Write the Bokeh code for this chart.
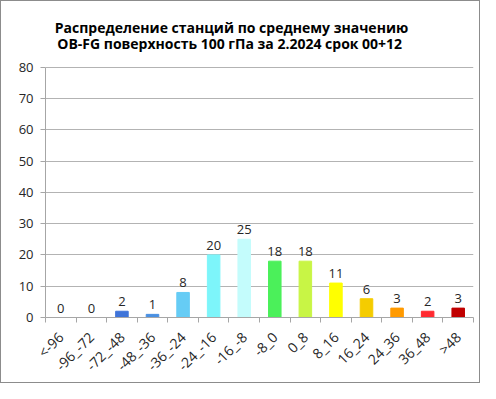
import math
from bokeh.plotting import figure
from bokeh.models import ColumnDataSource, FixedTicker, Range1d, LabelSet
from bokeh.core.properties import value
from bokeh.embed import file_html
from bokeh.resources import INLINE

categories = ["<-96", "-96_-72", "-72_-48", "-48_-36", "-36_-24", "-24_-16", "-16_-8",
              "-8_0", "0_8", "8_16", "16_24", "24_36", "36_48", ">48"]
counts = [0, 0, 2, 1, 8, 20, 25, 18, 18, 11, 6, 3, 2, 3]
colors = ["#FFFFFF", "#FFFFFF", "#3F74D9", "#4A90E2", "#66CCF5", "#7DF5FA", "#C4FCFC",
          "#4BF05A", "#C8F545", "#FFFF00", "#F5CC00", "#FF9A00", "#FF2A30", "#C00000"]
y_ticks = [0, 10, 20, 30, 40, 50, 60, 70, 80]
title_lines = ["Распределение станций по среднему значению",
               "OB-FG поверхность  100 гПа за 2.2024 срок 00+12"]

# layout (pixels on the canvas)
W, H = 480, 383
LEFT, RIGHT, TOP, BOTTOM = 44, 8, 10, 65
AXIS_TOP_PX = 66                    # canvas y of the top tick (80)
TITLE_PX = [26, 42]                 # canvas y of the two title line centres
TITLE_X_PX = 230                    # canvas x of the title centre

n = len(categories)
y_max = y_ticks[-1]
frame_h = H - TOP - BOTTOM
px_per_unit = (H - BOTTOM - AXIS_TOP_PX) / y_max
y_top = frame_h / px_per_unit
x_px_per_unit = (W - LEFT - RIGHT) / n

centers = [i + 0.5 for i in range(n)]
src = ColumnDataSource(dict(x=centers, top=counts, color=colors,
                            lbl=[str(c) for c in counts]))

FONT = "Open Sans"
p = figure(width=W, height=H, output_backend="svg", toolbar_location=None,
           x_range=Range1d(0, n), y_range=Range1d(0, y_top),
           min_border_left=LEFT, min_border_right=RIGHT, min_border_top=TOP,
           min_border_bottom=BOTTOM)
p.title.text = ""
p.styles = {"border": "1px solid #8c8c8c", "box-sizing": "border-box"}
p.outline_line_color = None
p.background_fill_color = "white"
p.border_fill_color = "white"

p.vbar(x="x", top="top", width=0.41, color="color", line_color="color", source=src)

labels = LabelSet(x="x", y="top", text="lbl", source=src, text_align="center",
                  text_baseline="bottom", y_offset=5, text_font_size="13px",
                  text_font=value(FONT), text_color="#262626")
p.add_layout(labels)

# title (two centred bold lines above the plot area)
title_src = ColumnDataSource(dict(
    x=[(TITLE_X_PX - LEFT) / x_px_per_unit] * len(title_lines),
    y=[y_max + (AXIS_TOP_PX - ty) / px_per_unit for ty in TITLE_PX],
    t=title_lines))
p.text(x="x", y="y", text="t", source=title_src, text_align="center",
       text_baseline="middle", text_font=value(FONT), text_font_style="bold",
       text_font_size="14px", text_color="#000000")

# y axis
p.yaxis.ticker = FixedTicker(ticks=y_ticks)
p.yaxis.bounds = (y_ticks[0], y_ticks[-1])
p.yaxis.axis_line_color = "#a6a6a6"
p.yaxis.major_tick_line_color = "#a6a6a6"
p.yaxis.major_tick_out = 5
p.yaxis.major_tick_in = 0
p.yaxis.minor_tick_line_color = None
p.yaxis.major_label_text_font = FONT
p.yaxis.major_label_text_font_size = "13px"
p.yaxis.major_label_text_color = "#262626"
p.yaxis.major_label_standoff = 7
p.ygrid.grid_line_color = "#b3b3b3"
p.ygrid.ticker = FixedTicker(ticks=y_ticks)

# x axis
p.xaxis.ticker = FixedTicker(ticks=centers, minor_ticks=list(range(n + 1)))
p.xaxis.major_label_overrides = {c: lab for c, lab in zip(centers, categories)}
p.xaxis.major_tick_line_color = None
p.xaxis.minor_tick_line_color = "#a6a6a6"
p.xaxis.minor_tick_out = 5
p.xaxis.minor_tick_in = 0
p.xaxis.axis_line_color = "#a6a6a6"
p.xaxis.major_label_orientation = math.pi / 4
p.xaxis.major_label_standoff = 11
p.xaxis.major_label_text_font = FONT
p.xaxis.major_label_text_font_size = "14px"
p.xaxis.major_label_text_color = "#262626"
p.xgrid.grid_line_color = None

open("out.html", "w").write(file_html(p, INLINE))
